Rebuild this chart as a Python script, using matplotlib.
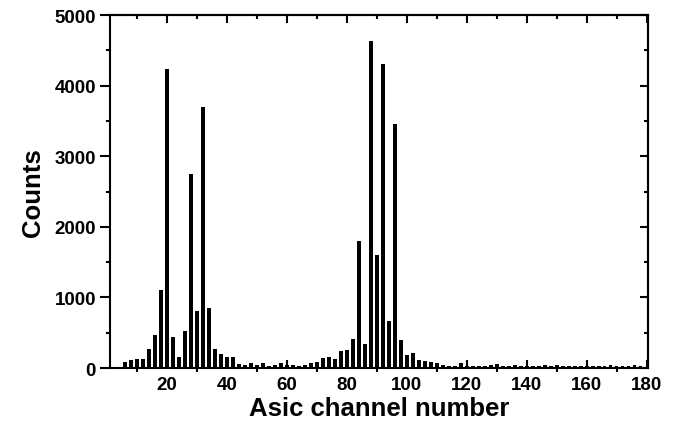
import matplotlib
matplotlib.use('Agg')
import matplotlib.pyplot as plt
from matplotlib.ticker import MultipleLocator

plt.rcParams['font.family'] = ['Liberation Sans', 'DejaVu Sans']
plt.rcParams['font.weight'] = 'bold'

# channel numbers (every second channel has a bar)
channels = list(range(6, 179, 2))
counts = [
    85, 118, 127, 127, 264, 462, 1104, 4240, 434, 151,
    524, 2750, 812, 3690, 850, 274, 203, 156, 156, 61,
    47, 75, 38, 75, 28, 38, 75, 47, 38, 28,
    47, 70, 85, 140, 151, 125, 245, 262, 406, 1800,
    340, 4635, 1600, 4300, 663, 3450, 396, 187, 218, 113,
    94, 80, 66, 47, 33, 33, 71, 33, 33, 28,
    33, 42, 61, 33, 33, 40, 28, 33, 28, 33,
    38, 28, 42, 33, 28, 33, 28, 28, 33, 28,
    33, 38, 33, 28, 33, 38, 33,
]

x_ticks = [20, 40, 60, 80, 100, 120, 140, 160, 180]
y_ticks = [0, 1000, 2000, 3000, 4000, 5000]

fig = plt.figure(figsize=(6.76, 4.35), dpi=100)
ax = fig.add_axes([0.1627, 0.1517, 0.7959, 0.8115])

ax.bar(channels, counts, width=1.3, color='black', linewidth=0)

ax.set_xlim(1, 180.5)
ax.set_ylim(0, 5000)
ax.set_xticks(x_ticks)
ax.set_yticks(y_ticks)
ax.xaxis.set_minor_locator(MultipleLocator(10))
ax.yaxis.set_minor_locator(MultipleLocator(500))

for s in ax.spines.values():
    s.set_linewidth(1.5)

# bottom: major in, minor out; left: all out
ax.tick_params(axis='x', which='major', direction='in', length=6, width=1.5,
               labelsize=13.5, pad=6)
ax.tick_params(axis='x', which='minor', direction='out', length=3, width=1.5)
ax.tick_params(axis='y', which='major', direction='out', length=7, width=1.5,
               labelsize=13.5, pad=3)
ax.tick_params(axis='y', which='minor', direction='out', length=3, width=1.5)
for lab in ax.get_xticklabels() + ax.get_yticklabels():
    lab.set_fontweight('bold')

# top and right ticks pointing inward, no labels
top = ax.secondary_xaxis('top')
top.set_xticks(x_ticks)
top.xaxis.set_minor_locator(MultipleLocator(10))
top.tick_params(which='major', direction='in', length=6, width=1.5, labeltop=False)
top.tick_params(which='minor', direction='in', length=3, width=1.5)
top.spines['top'].set_linewidth(1.5)

right = ax.secondary_yaxis('right')
right.set_yticks(y_ticks)
right.yaxis.set_minor_locator(MultipleLocator(500))
right.tick_params(which='major', direction='in', length=6, width=1.5, labelright=False)
right.tick_params(which='minor', direction='in', length=3, width=1.5)
right.spines['right'].set_linewidth(1.5)

ax.set_xlabel('Asic channel number', fontsize=18.5, fontweight='bold', labelpad=2)
ax.set_ylabel('Counts', fontsize=18.5, fontweight='bold', labelpad=7)

fig.savefig('out.png', dpi=100)
